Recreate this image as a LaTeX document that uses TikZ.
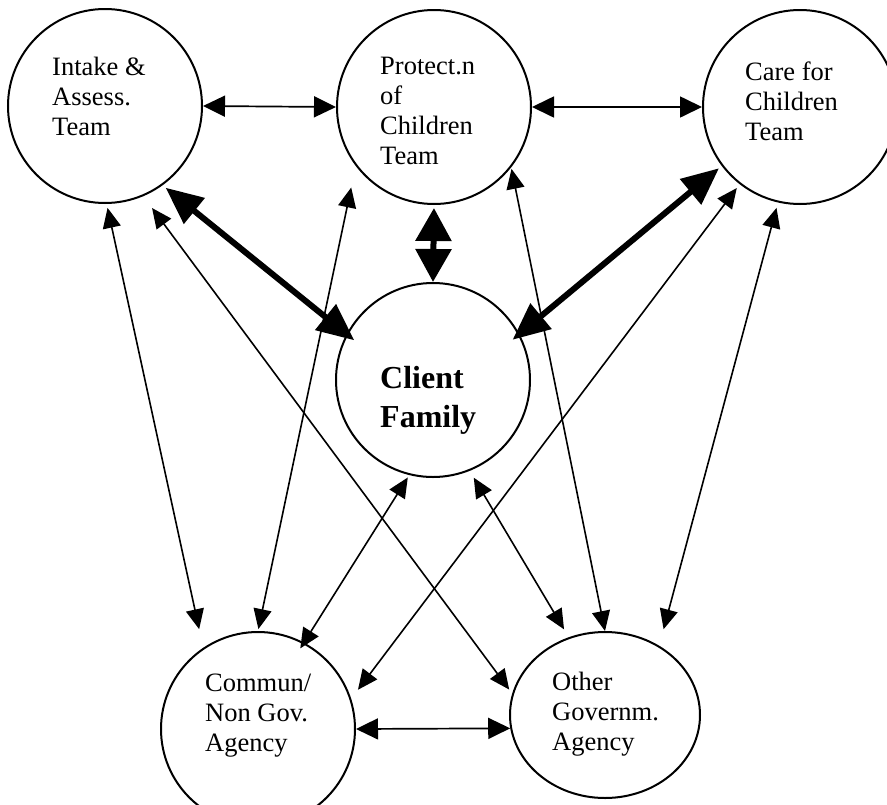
\documentclass[tikz,border=0pt]{standalone}
\usepackage{fontspec}
\setmainfont{Liberation Serif}
\usetikzlibrary{arrows.meta,shapes.geometric}
\begin{document}
\begin{tikzpicture}[x=1pt,y=-1pt,
  circ/.style={circle,draw,line width=2pt,minimum size=194pt,inner sep=0pt},
  oval/.style={ellipse,draw,line width=2pt,minimum width=190pt,minimum height=166pt,inner sep=0pt},
  lbl/.style={anchor=north west,inner sep=0pt,align=left,font=\fontsize{26.5}{30}\selectfont},
  blbl/.style={anchor=north west,inner sep=0pt,align=left,font=\fontsize{32}{39}\selectfont\bfseries},
  lnk/.style={line width=1.6pt,{Triangle[length=20pt,width=18pt]}-{Triangle[length=20pt,width=18pt]}},
  hlnk/.style={line width=1.7pt,{Triangle[length=22pt,width=21pt]}-{Triangle[length=22pt,width=21pt]}},
  strong/.style={line width=6pt,{Triangle[length=37pt,width=32pt]}-{Triangle[length=37pt,width=32pt]}},
  vstrong/.style={line width=6pt,{Triangle[length=33pt,width=35pt]}-{Triangle[length=33pt,width=35pt]}}
]
\useasboundingbox (0,0) rectangle (887,804);
\fill[white] (0,0) rectangle (887,804);

% circles
\node[circ] (I) at (105,106) {};
\node[circ] (P) at (434,107) {};
\node[circ] (C) at (800,107) {};
\node[circ] (F) at (433,380) {};
\node[circ] (N) at (258,729) {};
\node[oval] (O) at (605,715) {};

% texts
\node[lbl] (tI) at (52,57) {Intake \&\\Assess.\\Team};
\node[lbl] (tP) at (380,57) {Protect.n\\of\\Children\\Team};
\node[lbl] (tC) at (745,62) {Care for\\Children\\Team};
\node[blbl] (tF) at (380,366) {Client\\Family};
\node[lbl] (tN) at (205,674) {Commun/\\Non Gov.\\Agency};
\node[lbl] (tO) at (552,672) {Other\\Governm.\\Agency};

% connectors
\draw[hlnk] (I.east) -- (P.west);
\draw[hlnk] (P.east) -- (C.west);
\draw[strong,shorten <=3.9pt,shorten >=-10pt] (I.-54) -- (F.152);
\draw[strong,shorten <=3.6pt,shorten >=-9pt] (C.217) -- (F.28);
\draw[vstrong,shorten <=3pt] (P.south) -- (F.north);
\draw[lnk,shorten <=4pt,shorten >=19pt] (I.-89) -- (N.124);
\draw[lnk,shorten <=14.7pt,shorten >=5pt] (I.-67) -- (O.167);
\draw[lnk,shorten <=22pt,shorten >=2pt] (P.217) -- (N.90);
\draw[lnk,shorten <=1.6pt] (P.-38) -- (O.north);
\draw[lnk,shorten <=4.8pt,shorten >=11.2pt] (C.232) -- (N.18);
\draw[lnk,shorten <=5.6pt,shorten >=17pt] (C.-103) -- (O.52);
\draw[lnk,shorten <=2.8pt,shorten >=-7pt] (F.-104) -- (N.62);
\draw[lnk,shorten <=7.9pt,shorten >=9.2pt] (F.-68) -- (O.115);
\draw[hlnk] (N.east) -- (O.188);
\end{tikzpicture}
\end{document}
